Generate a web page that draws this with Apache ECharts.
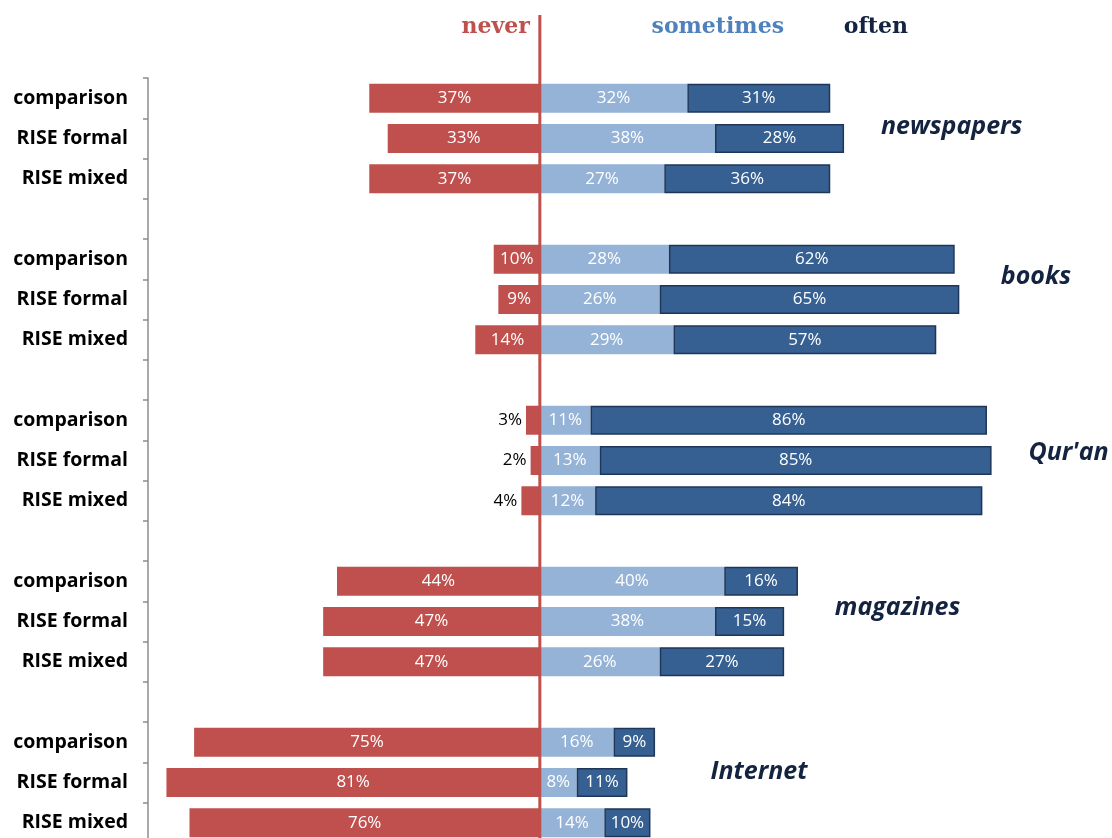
<!DOCTYPE html>
<html>
<head>
<meta charset="utf-8">
<script src="https://cdn.jsdelivr.net/npm/echarts@6/dist/echarts.min.js"></script>
<style>
  html, body { margin: 0; padding: 0; background: #fff; overflow: hidden; }
  #chart { width: 1112px; height: 846px; }
</style>
</head>
<body>
<div id="chart"></div>
<script>
const groups = ['newspapers', 'books', "Qur'an", 'magazines', 'Internet']
const respondents = ['comparison', 'RISE formal', 'RISE mixed']

// per row, group by group (comparison, RISE formal, RISE mixed)
const never = [37, 33, 37, 10, 9, 14, 3, 2, 4, 44, 47, 47, 75, 81, 76]
const sometimes = [32, 38, 27, 28, 26, 29, 11, 13, 12, 40, 38, 26, 16, 8, 14]
const often = [31, 28, 36, 62, 65, 57, 86, 85, 84, 16, 15, 27, 9, 11, 10]

// where the group name sits: x in % units, y offset (px) from the RISE formal row
const groupLabelX = [74, 100, 106, 64, 37]
const groupLabelDy = [-12, -23, -8, -14, -11]

const RED = '#C0504D'
const LIGHT = '#95B3D7'
const DARK = '#366092'
const NAVY = '#14233f'

// build rows with an empty spacer between groups
const categories = []
const neverRows = []
const sometimesRows = []
const oftenRows = []
groups.forEach((g, gi) => {
  respondents.forEach((r, ri) => {
    const i = gi * 3 + ri
    categories.push(r)
    neverRows.push(-never[i])
    sometimesRows.push(sometimes[i])
    oftenRows.push(often[i])
  })
  if (gi < groups.length - 1) {
    categories.push('')
    neverRows.push('-')
    sometimesRows.push('-')
    oftenRows.push('-')
  }
})

const labelBase = {
  show: true,
  color: '#fff',
  fontFamily: 'Open Sans',
  fontSize: 17,
  formatter: (p) => Math.abs(p.value) + '%',
}

const neverData = neverRows.map((v) => {
  if (v === '-') return v
  if (Math.abs(v) < 5) {
    return { value: v, label: { position: 'left', color: '#000', distance: 4 } }
  }
  return v
})

const chart = echarts.init(document.getElementById('chart'), null, { renderer: 'canvas' })

const option = {
  animation: false,
  backgroundColor: '#fff',
  grid: { left: 148, right: 19, top: 78, height: 765 },
  xAxis: {
    type: 'value',
    min: -85,
    max: 120,
    show: false,
  },
  yAxis: {
    type: 'category',
    inverse: true,
    data: categories,
    axisLine: { show: true, onZero: false, lineStyle: { color: '#8c8c8c', width: 1.5 } },
    axisTick: { show: true, length: 5, lineStyle: { color: '#8c8c8c', width: 1.5 } },
    axisLabel: {
      color: '#000',
      fontFamily: 'Open Sans',
      fontWeight: 'bold',
      fontSize: 19.5,
      margin: 20,
      interval: 0,
    },
    splitLine: { show: false },
  },
  series: [
    {
      name: 'never',
      type: 'bar',
      stack: 'all',
      barWidth: 29,
      data: neverData,
      itemStyle: { color: RED },
      label: { ...labelBase, position: 'inside' },
    },
    {
      name: 'sometimes',
      type: 'bar',
      stack: 'all',
      barWidth: 29,
      data: sometimesRows,
      itemStyle: { color: LIGHT },
      label: { ...labelBase, position: 'inside' },
    },
    {
      name: 'often',
      type: 'bar',
      stack: 'all',
      barWidth: 29,
      data: oftenRows,
      itemStyle: { color: DARK, borderColor: '#1f3658', borderWidth: 1.5 },
      label: { ...labelBase, position: 'inside' },
    },
  ],
}

chart.setOption(option)

const zeroX = chart.convertToPixel({ xAxisIndex: 0 }, 0)
const graphics = [
  {
    type: 'line',
    shape: { x1: zeroX, y1: 15, x2: zeroX, y2: 846 },
    style: { stroke: RED, lineWidth: 3 },
    z: 100,
  },
  {
    type: 'text',
    x: zeroX - 10,
    y: 27,
    style: {
      text: 'never', fill: RED, font: 'bold 22px "DejaVu Serif"',
      textAlign: 'right', textVerticalAlign: 'middle',
    },
  },
  {
    type: 'text',
    x: chart.convertToPixel({ xAxisIndex: 0 }, 38.6),
    y: 27,
    style: {
      text: 'sometimes', fill: '#4F81BD', font: 'bold 22px "DejaVu Serif"',
      textAlign: 'center', textVerticalAlign: 'middle',
    },
  },
  {
    type: 'text',
    x: chart.convertToPixel({ xAxisIndex: 0 }, 72.9),
    y: 27,
    style: {
      text: 'often', fill: NAVY, font: 'bold 22px "DejaVu Serif"',
      textAlign: 'center', textVerticalAlign: 'middle',
    },
  },
]

groups.forEach((g, gi) => {
  const rowIndex = gi * 4 + 1
  const px = chart.convertToPixel({ xAxisIndex: 0 }, groupLabelX[gi])
  const py = chart.convertToPixel({ yAxisIndex: 0 }, rowIndex) + groupLabelDy[gi]
  graphics.push({
    type: 'text',
    x: px,
    y: py,
    style: {
      text: g, fill: NAVY, font: 'italic bold 25px "Open Sans"',
      textAlign: 'left', textVerticalAlign: 'middle',
    },
  })
})

chart.setOption({ graphic: graphics })
</script>
</body>
</html>
